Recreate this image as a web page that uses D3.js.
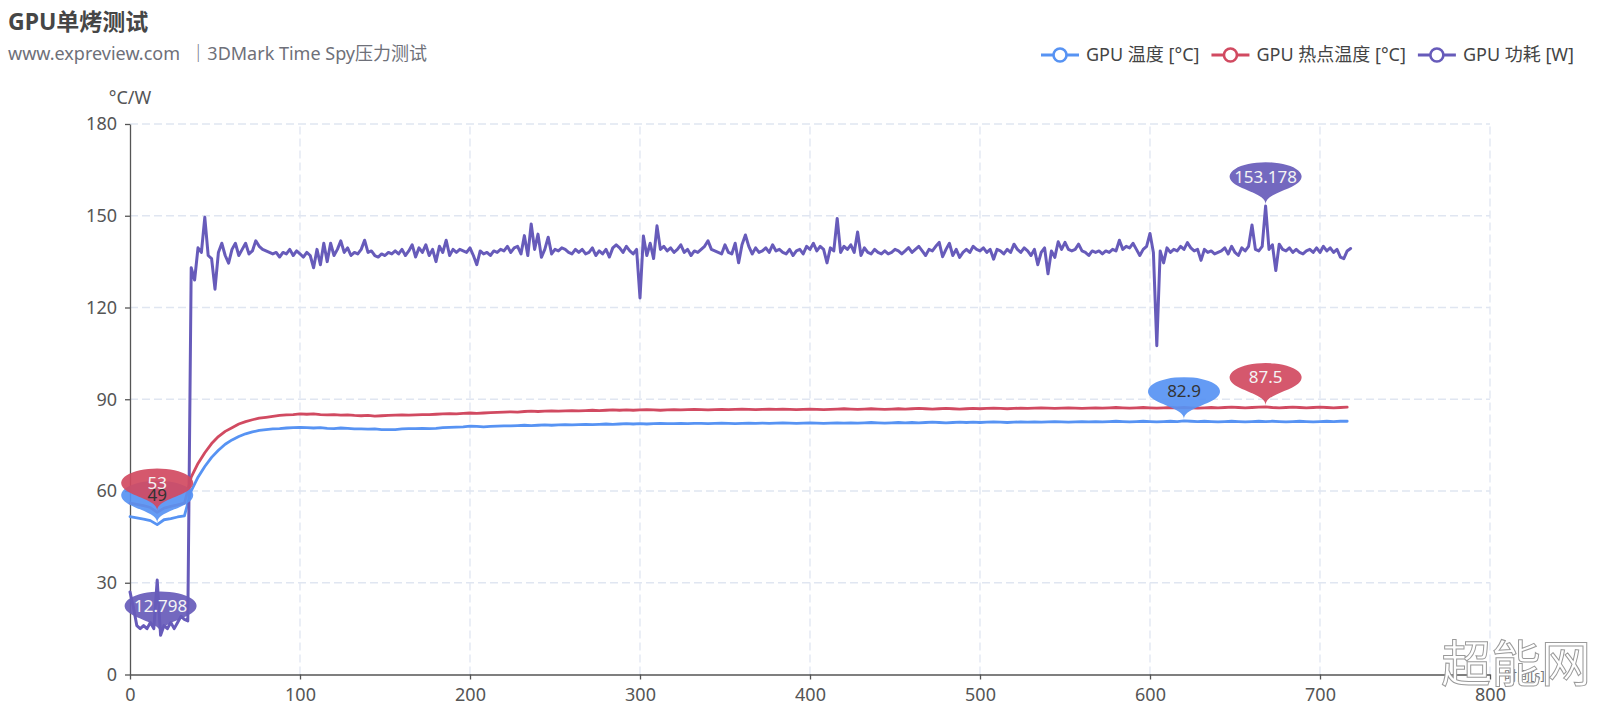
<!DOCTYPE html>
<html><head><meta charset="utf-8">
<script src="https://cdn.jsdelivr.net/npm/d3@7"></script>
<style>
html,body{margin:0;padding:0;background:#fff;}
svg{display:block;font-family:'Noto Sans','Noto Sans CJK SC',sans-serif;}
</style></head><body>
<svg id="chart" width="1620" height="720"></svg>
<script>
// ---------------- data ----------------
const titleText = "GPU单烤测试";
const subtitleText = "www.expreview.com  ｜3DMark Time Spy压力测试";
const seriesNames = ["GPU 温度 [°C]", "GPU 热点温度 [°C]", "GPU 功耗 [W]"];
const seriesColors = ["#5793f3", "#d14a61", "#675bba"];
const xTicks = [0, 100, 200, 300, 400, 500, 600, 700, 800];
const yTicks = [0, 30, 60, 90, 120, 150, 180];
const yAxisName = "°C/W";
const xAxisName = "时间[s]";
const watermarkText = "超能网";
const tempStep = 4;   // seconds between temperature samples
const powerStep = 2;  // seconds between power samples

const gpuTemp = [
51.6,51.2,50.8,50.3,49,50.6,51,51.5,51.9,60,
64.5,68,71,73.3,75.3,76.7,77.8,78.7,79.3,79.8,
80.1,80.3,80.4,80.6,80.7,80.8,80.7,80.6,80.7,80.5,
80.4,80.6,80.5,80.3,80.3,80.2,80.3,80.1,80.1,80.1,
80.3,80.4,80.4,80.5,80.4,80.5,80.7,80.8,80.9,81,
81.2,81.1,81,81.1,81.2,81.3,81.3,81.4,81.5,81.4,
81.5,81.6,81.5,81.6,81.7,81.6,81.7,81.8,81.7,81.8,
81.9,81.8,81.9,82,81.9,82,81.9,82,82.1,82,
82,82.1,82,82.1,82.1,82,82.1,82.2,82.1,82,
82.1,82.2,82.1,82.2,82.1,82.2,82.3,82.2,82.1,82.2,
82.3,82.2,82.1,82.2,82.3,82.2,82.3,82.2,82.3,82.4,
82.3,82.2,82.3,82.4,82.3,82.4,82.3,82.4,82.5,82.4,
82.3,82.4,82.5,82.4,82.5,82.4,82.5,82.6,82.5,82.4,
82.5,82.6,82.5,82.6,82.5,82.6,82.7,82.6,82.5,82.6,
82.7,82.6,82.7,82.6,82.7,82.8,82.7,82.6,82.7,82.8,
82.7,82.6,82.7,82.8,82.7,82.9,82.8,82.7,82.8,82.7,
82.6,82.7,82.8,82.7,82.6,82.7,82.8,82.7,82.8,82.7,
82.6,82.7,82.8,82.7,82.6,82.7,82.8,82.7,82.8,82.8
];
const hotspotTemp = [
56,55.6,55.2,54.6,53,54.4,55,55.5,56,64.5,
69,72.5,75.5,77.8,79.5,80.7,81.9,82.7,83.3,83.8,
84.1,84.4,84.7,84.9,85,85.2,85.1,85.2,85,84.9,
85,84.8,84.9,84.7,84.6,84.7,84.5,84.6,84.7,84.8,
84.9,84.8,84.9,85,85,85.1,85.2,85.3,85.2,85.4,
85.5,85.4,85.5,85.6,85.7,85.8,85.9,85.8,86,86.1,
86,86.1,86.2,86.1,86.2,86.3,86.2,86.3,86.4,86.3,
86.4,86.5,86.4,86.5,86.4,86.5,86.6,86.5,86.4,86.5,
86.6,86.5,86.6,86.7,86.6,86.5,86.6,86.7,86.6,86.7,
86.8,86.7,86.6,86.7,86.8,86.7,86.8,86.7,86.6,86.7,
86.8,86.7,86.6,86.7,86.8,86.9,86.8,86.7,86.8,86.9,
86.8,86.7,86.8,86.9,86.8,86.9,87,86.9,86.8,86.9,
87,86.9,86.8,86.9,87,86.9,87,87.1,87,86.9,
87,87.1,87,87.1,87.2,87.1,87,87.1,87.2,87.1,
87,87.1,87.2,87.1,87.2,87.3,87.2,87.1,87.2,87.3,
87.2,87.1,87.2,87.3,87.2,87.3,87.2,87.1,87.2,87.3,
87.2,87.3,87.4,87.3,87.2,87.3,87.4,87.5,87.3,87.2,
87.3,87.4,87.3,87.2,87.3,87.4,87.3,87.2,87.3,87.4
];
const gpuPower = [
27,22,16,15,16,15,17,15,30.9,12.798,
16,15,17,15,17,19,18,17.5,133,129,
139.5,138,149.5,137,136,126,138,141,137,134.5,
139,141,137,139,141,137.5,138.5,141.8,140,139,
138.5,138,137.5,138,136.5,138,137.5,139,137,138.5,
137.5,136.5,138,137,133,139,134,141,135,141,
137,139,141.8,138,139.5,137,138,137.5,139,142,
138,138.5,137,136.5,137.5,137,138,137.5,138.5,137.5,
139,137,138.5,140.5,136.5,139.5,138,140.5,137,139,
135,140,138,142,137,139,138,139,138.5,138,
139.5,137,134,138.5,137.5,138,137,138.5,138,139,
138.5,140,138,139.5,140,137.5,143.5,137,147.3,139,
144,136.4,139,143,137.5,139,138.5,139.5,139,138,
137.5,139,138,139,137.5,138,139.5,137,138.5,137.5,
139,136.5,139.5,140.5,139.5,138,140,138.5,137.5,139,
123.1,143.4,137,141,136,146.7,139,140,138.5,139.5,
138,139,140.5,138,139,137,138.5,138,139,140,
141.8,139,138.5,138,137.5,140.5,138,137.5,141,134.6,
140.5,143.7,140,137.5,139.5,138,138.5,139.5,138,140.5,
138.5,139,138,137.5,139,137,138.5,139,137.5,140,
139,141,138.5,140,139,134.6,139.5,138.5,149.1,138,
140,139,140.5,138,144.7,137,139.5,138,137.5,139,
138,137.5,138.5,137.5,138,139,138.5,137.5,138.5,139.6,
138,139,140,138.5,137,139,138.5,140,141.3,136.6,
139,141,137,139,136.4,138,139,138,140,139,
138.5,139.5,138,139,135.8,139,138.5,137.5,139,138,
140.7,139,138,139.5,138.5,137,139,134,138,139.5,
131,138.5,136.4,141.5,139,141.3,139,138.5,139,140.7,
138.5,138,137,138.5,138,138.5,137.5,138.5,138,139,
138.5,142,139,140,139.5,141,139,137,139,140,
144.2,138,107.5,138.5,134.6,139.5,138,139,138.5,140,
139,141.2,139.5,138.5,139,135.4,139,138,138.5,137.5,
138,138.5,139.5,137.5,140,138,137,139.5,138.5,140,
147,139,138.5,140,153.178,139,140.5,132.1,140.7,139,
138.5,139.5,138,139,138,137.5,138.5,139,138,139.5,
138,140,138.5,139.5,138,139,136.5,136,138.5,139.3
];

// ---------------- chart ----------------
const svg = d3.select("#chart");
const x = d3.scaleLinear().domain([0, 800]).range([130, 1490]);
const y = d3.scaleLinear().domain([0, 180]).range([674.5, 124]);

// title
svg.append("text").attr("x", 8).attr("y", 30)
  .attr("font-size", 23).attr("font-weight", "bold").attr("fill", "#464646")
  .text(titleText);
svg.append("text").attr("x", 8).attr("y", 60)
  .attr("font-size", 18).attr("fill", "#6E7079")
  .attr("xml:space", "preserve").style("white-space", "pre")
  .text(subtitleText);

// grid
const grid = svg.append("g");
grid.selectAll("line.h").data(yTicks.filter(d => d > 0)).join("line")
  .attr("x1", x(0)).attr("x2", x(800)).attr("y1", d => y(d)).attr("y2", d => y(d))
  .attr("stroke", "#E0E6F1").attr("stroke-width", 1.3).attr("stroke-dasharray", "8,4");
grid.selectAll("line.v").data(xTicks.filter(d => d > 0)).join("line")
  .attr("x1", d => x(d)).attr("x2", d => x(d)).attr("y1", y(0)).attr("y2", y(180))
  .attr("stroke", "#E0E6F1").attr("stroke-width", 1.3).attr("stroke-dasharray", "8,4");

// axes
const yAxis = svg.append("g").attr("transform", `translate(${x(0)},0)`)
  .call(d3.axisLeft(y).tickValues(yTicks).tickSize(5).tickPadding(8).tickSizeOuter(0));
const xAxis = svg.append("g").attr("transform", `translate(0,${y(0)})`)
  .call(d3.axisBottom(x).tickValues(xTicks).tickSize(5).tickPadding(9).tickSizeOuter(0));
[yAxis, xAxis].forEach(g => {
  g.select(".domain").attr("stroke", "#555").attr("stroke-width", 1.3);
  g.selectAll(".tick line").attr("stroke", "#555").attr("stroke-width", 1.3);
  g.selectAll(".tick text").attr("fill", "#555").attr("font-size", 18)
    .attr("font-family", "'Noto Sans','Noto Sans CJK SC',sans-serif");
});

svg.append("text").attr("x", x(0)).attr("y", 104).attr("text-anchor", "middle")
  .attr("font-size", 18).attr("fill", "#555").text(yAxisName);
svg.append("text").attr("x", x(800) + 14).attr("y", y(0) + 5)
  .attr("font-size", 13).attr("fill", "#777").text(xAxisName);

// series
const series = [
  { name: seriesNames[0], color: seriesColors[0], data: gpuTemp, step: tempStep, width: 2.8 },
  { name: seriesNames[1], color: seriesColors[1], data: hotspotTemp, step: tempStep, width: 2.8 },
  { name: seriesNames[2], color: seriesColors[2], data: gpuPower, step: powerStep, width: 3 }
];
const line = d3.line().x(d => x(d[0])).y(d => y(d[1]));
series.forEach(s => {
  s.points = s.data.map((v, i) => [i * s.step, v]);
  svg.append("path").attr("d", line(s.points)).attr("fill", "none")
    .attr("stroke", s.color).attr("stroke-width", s.width)
    .attr("stroke-linejoin", "round").attr("stroke-linecap", "round");
});

// pin markers (max & min)
function pinPath() {
  const p = d3.path();
  const r = 0.6, h = 2;
  const dy = r * r / (h - r);
  const cy = -h + r + dy;
  const a = Math.asin(dy / r);
  const dx = Math.cos(a) * r;
  const tx = Math.sin(a), ty = Math.cos(a);
  const c1 = r * 0.6, c2 = r * 0.7;
  p.moveTo(-dx, cy + dy);
  p.arc(0, cy, r, Math.PI - a, Math.PI * 2 + a);
  p.bezierCurveTo(dx - tx * c1, cy + dy + ty * c1, 0, -c2, 0, 0);
  p.bezierCurveTo(0, -c2, -dx + tx * c1, cy + dy + ty * c1, -dx, cy + dy);
  p.closePath();
  return { d: p.toString(), cy: cy };
}
const pin = pinPath();
const pinW = 120, pinH = 48;
const marks = [];
series.forEach((s, si) => {
  const maxI = d3.maxIndex(s.data), minI = d3.minIndex(s.data);
  [maxI, minI].forEach(i => marks.push({ s: si, t: s.points[i][0], v: s.data[i] }));
});
const pinG = svg.append("g");
marks.forEach(m => {
  pinG.append("path").attr("d", pin.d)
    .attr("transform", `translate(${x(m.t)},${y(m.v) - 2}) scale(${pinW / 2},${pinH / 2})`)
    .attr("fill", seriesColors[m.s]).attr("fill-opacity", 0.92);
});
const labelColors = ["#333", "#f4f4f4", "#f4f4f4"];
marks.forEach(m => {
  svg.append("text").attr("x", x(m.t)).attr("y", y(m.v) - 2 + pin.cy * pinH / 2)
    .attr("dy", "0.35em").attr("text-anchor", "middle").attr("font-size", 17)
    .attr("fill", labelColors[m.s]).text(m.v);
});

// legend
const legend = svg.append("g");
let items = [];
series.forEach((s, i) => {
  const g = legend.append("g");
  g.append("line").attr("x1", 0).attr("x2", 38).attr("y1", 0).attr("y2", 0)
    .attr("stroke", s.color).attr("stroke-width", 3);
  g.append("circle").attr("cx", 19).attr("cy", 0).attr("r", 6.5)
    .attr("fill", "#fff").attr("stroke", s.color).attr("stroke-width", 2.6);
  const t = g.append("text").attr("x", 45).attr("y", 0).attr("dy", "0.35em")
    .attr("font-size", 18).attr("fill", "#444").text(s.name);
  items.push({ g, w: 45 + t.node().getComputedTextLength() });
});
const gap = 12;
const total = d3.sum(items, d => d.w) + gap * (items.length - 1);
let lx = 1574 - total;
items.forEach(it => {
  it.g.attr("transform", `translate(${lx},55)`);
  lx += it.w + gap;
});

// watermark
svg.append("text").attr("x", 1441).attr("y", 682)
  .attr("font-size", 50).attr("font-family", "'Noto Sans CJK SC',sans-serif")
  .attr("fill", "#fff").attr("stroke", "#9a9a9a").attr("stroke-width", 1)
  .text(watermarkText);
</script>
</body></html>
